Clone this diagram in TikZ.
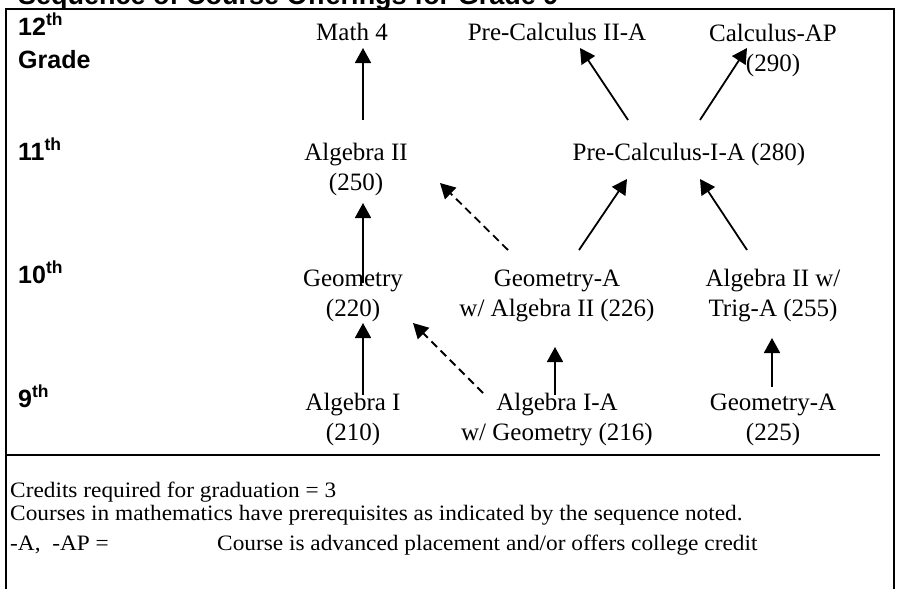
\documentclass[tikz,border=0pt]{standalone}
\usepackage{fontspec}
\setmainfont{Liberation Serif}
\setsansfont{Liberation Sans}
\newfontfamily\notefont[FakeStretch=1.06]{Liberation Serif}
\usetikzlibrary{arrows.meta}

\tikzset{
  course/.style={align=center, inner sep=0pt, text height=17pt, text depth=1pt,
    font=\fontsize{25}{30}\selectfont},
  grade/.style={anchor=base west, inner sep=0pt,
    font=\sffamily\bfseries\fontsize{25}{28}\selectfont},
  note/.style={anchor=base west, inner sep=0pt, font=\notefont\fontsize{22}{24}\selectfont},
  arr/.style={line width=1.8pt, -{Triangle[length=15pt,width=16pt]}},
  darr/.style={arr, dash pattern=on 8pt off 5pt},
}

\begin{document}
\begin{tikzpicture}[x=1pt, y=-1pt]
  \useasboundingbox (0,0) rectangle (897,589);

  % title (cut off at the top) and frame
  \node[grade, font=\sffamily\bfseries\fontsize{27}{30}\selectfont] (title) at (18,5)
    {Sequence of Course Offerings for Grade 9};
  \draw[line width=2.5pt] (6,600) -- (6,9) -- (894,9) -- (894,600);

  % grade labels
  \node[grade] (g12) at (18,35) {12\textsuperscript{th}};
  \node[grade] (g12b) at (18,68) {Grade};
  \node[grade] (g11) at (18,160) {11\textsuperscript{th}};
  \node[grade] (g10) at (18,283) {10\textsuperscript{th}};
  \node[grade] (g9) at (18,407) {9\textsuperscript{th}};

  % 12th grade
  \node[course] (math4) at (352,32) {Math 4};
  \node[course] (pc2) at (557,32) {Pre-Calculus II-A};
  \node[course] (calcap) at (773,63) {Calculus-AP\\(290)};

  % 11th grade
  \node[course] (alg2) at (356,182) {Algebra II\\(250)};
  \node[course] (pc1) at (689,152) {Pre-Calculus-I-A (280)};

  % 10th grade
  \node[course] (geom) at (353,308) {Geometry\\(220)};
  \node[course] (geoma) at (557,308) {Geometry-A\\w/ Algebra II (226)};
  \node[course] (alg2trig) at (773,308) {Algebra II w/\\Trig-A (255)};

  % 9th grade
  \node[course] (alg1) at (353,432) {Algebra I\\(210)};
  \node[course] (alg1a) at (557,432) {Algebra I-A\\w/ Geometry (216)};
  \node[course] (geoma9) at (773,432) {Geometry-A\\(225)};

  % arrows into 12th grade
  \draw[arr] ([shift={(7,-62)}]alg2.center) -- ([shift={(11,16)}]math4.center);
  \draw[arr] ([shift={(-61,-32)}]pc1.center) -- ([shift={(23,16)}]pc2.center);
  \draw[arr] ([shift={(11,-32)}]pc1.center) -- ([shift={(-26,-15)}]calcap.center);

  % arrows into 11th grade
  \draw[arr] ([shift={(10,-25)}]geom.center) -- ([shift={(7,21)}]alg2.center);
  \draw[darr] ([shift={(-49,-58)}]geoma.center) -- ([shift={(84,1)}]alg2.center);
  \draw[arr] ([shift={(22,-58)}]geoma.center) -- ([shift={(-62,27)}]pc1.center);
  \draw[arr] ([shift={(-26,-58)}]alg2trig.center) -- ([shift={(11,27)}]pc1.center);

  % arrows into 10th grade
  \draw[arr] ([shift={(10,-37)}]alg1.center) -- ([shift={(10,15)}]geom.center);
  \draw[darr] ([shift={(-74,-39)}]alg1a.center) -- ([shift={(60,15)}]geom.center);
  \draw[arr] ([shift={(-2,-37)}]alg1a.center) -- ([shift={(-2,39)}]geoma.center);
  \draw[arr] ([shift={(-1,-45)}]geoma9.center) -- ([shift={(-1,30)}]alg2trig.center);

  % notes
  \draw[line width=1.3pt] (6,455) -- (880,455);
  \node[note] (credits) at (10,497) {Credits required for graduation = 3};
  \node[note] (prereq) at (10,520)
    {Courses in mathematics have prerequisites as indicated by the sequence noted.};
  \node[note] (key) at (10,550) {-A,\ \ -AP =};
  \node[note] (keytxt) at (217,550)
    {Course is advanced placement and/or offers college credit};
\end{tikzpicture}
\end{document}
